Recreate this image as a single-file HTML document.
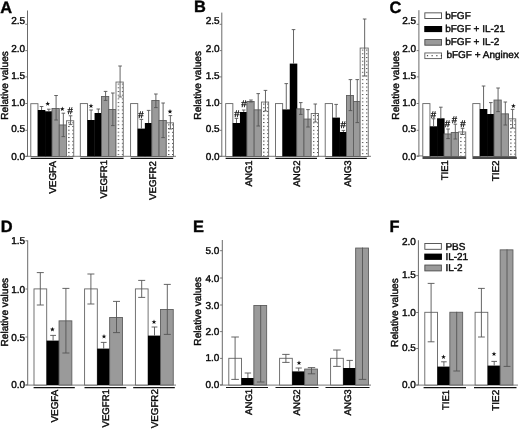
<!DOCTYPE html>
<html><head><meta charset="utf-8"><title>Figure</title>
<style>
html,body{margin:0;padding:0;background:#fff;}
body{width:520px;height:430px;overflow:hidden;font-family:"Liberation Sans",sans-serif;}
svg{display:block;}
svg text{font-family:"Liberation Sans",sans-serif;stroke:#111;stroke-width:0.42px;text-rendering:geometricPrecision;}
svg{will-change:transform;}
</style></head>
<body>
<svg width="520" height="430" viewBox="0 0 520 430">
<defs>
<g id="tile">
<rect width="4.1" height="3.7" fill="#fff"/>
<rect x="0" y="0" width="1.35" height="1.0" fill="#4a4a4a"/>
</g>
<pattern id="dp1" x="68.20" y="122.30" width="4.1" height="3.7" patternUnits="userSpaceOnUse"><use href="#tile"/></pattern>
<pattern id="dp2" x="117.70" y="83.60" width="4.1" height="3.7" patternUnits="userSpaceOnUse"><use href="#tile"/></pattern>
<pattern id="dp3" x="168.00" y="124.40" width="4.1" height="3.7" patternUnits="userSpaceOnUse"><use href="#tile"/></pattern>
<pattern id="dp4" x="263.10" y="103.60" width="4.1" height="3.7" patternUnits="userSpaceOnUse"><use href="#tile"/></pattern>
<pattern id="dp5" x="312.90" y="115.00" width="4.1" height="3.7" patternUnits="userSpaceOnUse"><use href="#tile"/></pattern>
<pattern id="dp6" x="361.85" y="49.60" width="4.1" height="3.7" patternUnits="userSpaceOnUse"><use href="#tile"/></pattern>
<pattern id="dp7" x="460.20" y="133.50" width="4.1" height="3.7" patternUnits="userSpaceOnUse"><use href="#tile"/></pattern>
<pattern id="dp8" x="510.20" y="120.40" width="4.1" height="3.7" patternUnits="userSpaceOnUse"><use href="#tile"/></pattern>
</defs>
<rect width="520" height="430" fill="#fff"/>
<text x="0.30" y="12.60" font-size="16.4" font-weight="bold" fill="#000">A</text>
<path d="M27.50 10.50V156.50" stroke="#6a6a6a" stroke-width="1" fill="none"/>
<path d="M25.30 24.30H27.50" stroke="#6a6a6a" stroke-width="0.9" fill="none"/>
<path d="M25.30 50.60H27.50" stroke="#6a6a6a" stroke-width="0.9" fill="none"/>
<path d="M25.30 76.90H27.50" stroke="#6a6a6a" stroke-width="0.9" fill="none"/>
<path d="M25.30 103.50H27.50" stroke="#6a6a6a" stroke-width="0.9" fill="none"/>
<path d="M25.30 130.30H27.50" stroke="#6a6a6a" stroke-width="0.9" fill="none"/>
<path d="M25.30 156.40H27.50" stroke="#6a6a6a" stroke-width="0.9" fill="none"/>
<text x="25.20" y="24.40" font-size="10" text-anchor="end" fill="#000">2.5</text>
<text x="25.20" y="51.50" font-size="10" text-anchor="end" fill="#000">2.0</text>
<text x="25.20" y="78.50" font-size="10" text-anchor="end" fill="#000">1.5</text>
<text x="25.20" y="106.00" font-size="10" text-anchor="end" fill="#000">1.0</text>
<text x="25.20" y="131.90" font-size="10" text-anchor="end" fill="#000">0.5</text>
<text x="25.20" y="159.60" font-size="10" text-anchor="end" fill="#000">0.0</text>
<text transform="translate(8.10 85.40) rotate(-90)" font-size="10.15" text-anchor="middle" fill="#000">Relative values</text>
<path d="M25.30 156.30H176.00" stroke="#6a6a6a" stroke-width="0.9" fill="none"/>
<rect x="30.80" y="103.70" width="7.15" height="52.80" fill="#fff" stroke="#646464" stroke-width="0.9"/>
<rect x="37.80" y="110.00" width="7.55" height="46.50" fill="#000"/>
<rect x="45.05" y="111.30" width="7.55" height="45.20" fill="#000"/>
<rect x="52.00" y="108.45" width="7.25" height="48.05" fill="#9a9a9a" stroke="#5e5e5e" stroke-width="0.9"/>
<rect x="59.25" y="124.95" width="7.25" height="31.55" fill="#9a9a9a" stroke="#5e5e5e" stroke-width="0.9"/>
<rect x="66.50" y="120.75" width="7.25" height="35.75" fill="url(#dp1)" stroke="#6a6a6a" stroke-width="0.9"/>
<path d="M41.58 106.50V110.00" stroke="#555" stroke-width="0.9" fill="none"/>
<path d="M39.78 106.50H43.38" stroke="#555" stroke-width="0.9" fill="none"/>
<path d="M48.83 109.20V111.30" stroke="#555" stroke-width="0.9" fill="none"/>
<path d="M47.03 109.20H50.62" stroke="#555" stroke-width="0.9" fill="none"/>
<path d="M56.08 95.50V120.00" stroke="#555" stroke-width="0.9" fill="none"/>
<path d="M54.28 95.50H57.88" stroke="#555" stroke-width="0.9" fill="none"/>
<path d="M54.28 120.00H57.88" stroke="#555" stroke-width="0.9" fill="none"/>
<path d="M63.33 113.20V136.60" stroke="#555" stroke-width="0.9" fill="none"/>
<path d="M61.53 113.20H65.12" stroke="#555" stroke-width="0.9" fill="none"/>
<path d="M61.53 136.60H65.12" stroke="#555" stroke-width="0.9" fill="none"/>
<path d="M70.58 115.80V124.60" stroke="#555" stroke-width="0.9" fill="none"/>
<path d="M68.78 115.80H72.38" stroke="#555" stroke-width="0.9" fill="none"/>
<path d="M68.78 124.60H72.38" stroke="#555" stroke-width="0.9" fill="none"/>
<rect x="80.30" y="103.60" width="7.15" height="52.90" fill="#fff" stroke="#646464" stroke-width="0.9"/>
<rect x="87.30" y="120.00" width="7.55" height="36.50" fill="#000"/>
<rect x="94.55" y="113.00" width="7.55" height="43.50" fill="#000"/>
<rect x="101.50" y="96.45" width="7.25" height="60.05" fill="#9a9a9a" stroke="#5e5e5e" stroke-width="0.9"/>
<rect x="108.75" y="109.45" width="7.25" height="47.05" fill="#9a9a9a" stroke="#5e5e5e" stroke-width="0.9"/>
<rect x="116.00" y="82.05" width="7.25" height="74.45" fill="url(#dp2)" stroke="#6a6a6a" stroke-width="0.9"/>
<path d="M91.08 110.00V120.00" stroke="#555" stroke-width="0.9" fill="none"/>
<path d="M89.28 110.00H92.88" stroke="#555" stroke-width="0.9" fill="none"/>
<path d="M98.33 109.00V113.00" stroke="#555" stroke-width="0.9" fill="none"/>
<path d="M96.53 109.00H100.12" stroke="#555" stroke-width="0.9" fill="none"/>
<path d="M105.58 91.40V100.40" stroke="#555" stroke-width="0.9" fill="none"/>
<path d="M103.78 91.40H107.38" stroke="#555" stroke-width="0.9" fill="none"/>
<path d="M103.78 100.40H107.38" stroke="#555" stroke-width="0.9" fill="none"/>
<path d="M112.83 93.00V125.60" stroke="#555" stroke-width="0.9" fill="none"/>
<path d="M111.03 93.00H114.62" stroke="#555" stroke-width="0.9" fill="none"/>
<path d="M111.03 125.60H114.62" stroke="#555" stroke-width="0.9" fill="none"/>
<path d="M120.08 66.00V97.00" stroke="#555" stroke-width="0.9" fill="none"/>
<path d="M118.28 66.00H121.88" stroke="#555" stroke-width="0.9" fill="none"/>
<path d="M118.28 97.00H121.88" stroke="#555" stroke-width="0.9" fill="none"/>
<rect x="130.60" y="103.60" width="7.15" height="52.90" fill="#fff" stroke="#646464" stroke-width="0.9"/>
<rect x="137.60" y="128.60" width="7.55" height="27.90" fill="#000"/>
<rect x="144.85" y="123.00" width="7.55" height="33.50" fill="#000"/>
<rect x="151.80" y="100.45" width="7.25" height="56.05" fill="#9a9a9a" stroke="#5e5e5e" stroke-width="0.9"/>
<rect x="159.05" y="120.45" width="7.25" height="36.05" fill="#9a9a9a" stroke="#5e5e5e" stroke-width="0.9"/>
<rect x="166.30" y="122.85" width="7.25" height="33.65" fill="url(#dp3)" stroke="#6a6a6a" stroke-width="0.9"/>
<path d="M141.38 119.40V128.60" stroke="#555" stroke-width="0.9" fill="none"/>
<path d="M139.57 119.40H143.18" stroke="#555" stroke-width="0.9" fill="none"/>
<path d="M148.62 110.40V123.00" stroke="#555" stroke-width="0.9" fill="none"/>
<path d="M146.82 110.40H150.43" stroke="#555" stroke-width="0.9" fill="none"/>
<path d="M155.88 94.00V107.60" stroke="#555" stroke-width="0.9" fill="none"/>
<path d="M154.07 94.00H157.68" stroke="#555" stroke-width="0.9" fill="none"/>
<path d="M154.07 107.60H157.68" stroke="#555" stroke-width="0.9" fill="none"/>
<path d="M163.12 103.00V137.60" stroke="#555" stroke-width="0.9" fill="none"/>
<path d="M161.32 103.00H164.93" stroke="#555" stroke-width="0.9" fill="none"/>
<path d="M161.32 137.60H164.93" stroke="#555" stroke-width="0.9" fill="none"/>
<path d="M170.38 115.60V129.00" stroke="#555" stroke-width="0.9" fill="none"/>
<path d="M168.57 115.60H172.18" stroke="#555" stroke-width="0.9" fill="none"/>
<path d="M168.57 129.00H172.18" stroke="#555" stroke-width="0.9" fill="none"/>
<polygon points="47.70,101.30 48.32,102.95 50.08,103.03 48.70,104.12 49.17,105.82 47.70,104.85 46.23,105.82 46.70,104.12 45.32,103.03 47.08,102.95" fill="#111"/>
<polygon points="62.30,106.50 62.92,108.15 64.68,108.23 63.30,109.32 63.77,111.02 62.30,110.05 60.83,111.02 61.30,109.32 59.92,108.23 61.68,108.15" fill="#111"/>
<text x="70.20" y="113.50" font-size="9.6" text-anchor="middle" fill="#000" style="stroke-width:0.3px">#</text>
<polygon points="91.00,103.50 91.62,105.15 93.38,105.23 92.00,106.32 92.47,108.02 91.00,107.05 89.53,108.02 90.00,106.32 88.62,105.23 90.38,105.15" fill="#111"/>
<text x="141.00" y="118.00" font-size="9.6" text-anchor="middle" fill="#000" style="stroke-width:0.3px">#</text>
<polygon points="170.00,109.10 170.62,110.75 172.38,110.83 171.00,111.92 171.47,113.62 170.00,112.65 168.53,113.62 169.00,111.92 167.62,110.83 169.38,110.75" fill="#111"/>
<path d="M30.70 158.40H73.20" stroke="#111" stroke-width="1.4" fill="none"/>
<path d="M80.20 158.40H123.60" stroke="#111" stroke-width="1.4" fill="none"/>
<path d="M130.60 158.40H173.20" stroke="#111" stroke-width="1.4" fill="none"/>
<text transform="translate(56.00 160.80) rotate(-90)" font-size="9.9" text-anchor="end" fill="#000">VEGFA</text>
<text transform="translate(107.00 160.00) rotate(-90)" font-size="9.6" text-anchor="end" fill="#000">VEGFR1</text>
<text transform="translate(155.80 161.20) rotate(-90)" font-size="9.7" text-anchor="end" fill="#000">VEGFR2</text>
<text x="194.00" y="12.20" font-size="16.4" font-weight="bold" fill="#000">B</text>
<path d="M221.80 12.60V156.50" stroke="#6a6a6a" stroke-width="1" fill="none"/>
<path d="M219.60 24.30H221.80" stroke="#6a6a6a" stroke-width="0.9" fill="none"/>
<path d="M219.60 50.60H221.80" stroke="#6a6a6a" stroke-width="0.9" fill="none"/>
<path d="M219.60 76.90H221.80" stroke="#6a6a6a" stroke-width="0.9" fill="none"/>
<path d="M219.60 103.50H221.80" stroke="#6a6a6a" stroke-width="0.9" fill="none"/>
<path d="M219.60 130.30H221.80" stroke="#6a6a6a" stroke-width="0.9" fill="none"/>
<path d="M219.60 156.40H221.80" stroke="#6a6a6a" stroke-width="0.9" fill="none"/>
<text x="219.60" y="24.40" font-size="10" text-anchor="end" fill="#000">2.5</text>
<text x="219.60" y="51.50" font-size="10" text-anchor="end" fill="#000">2.0</text>
<text x="219.60" y="78.50" font-size="10" text-anchor="end" fill="#000">1.5</text>
<text x="219.60" y="106.00" font-size="10" text-anchor="end" fill="#000">1.0</text>
<text x="219.60" y="131.90" font-size="10" text-anchor="end" fill="#000">0.5</text>
<text x="219.60" y="159.60" font-size="10" text-anchor="end" fill="#000">0.0</text>
<text transform="translate(200.80 85.30) rotate(-90)" font-size="10.15" text-anchor="middle" fill="#000">Relative values</text>
<path d="M219.80 156.30H371.00" stroke="#6a6a6a" stroke-width="0.9" fill="none"/>
<rect x="225.70" y="103.60" width="7.15" height="52.90" fill="#fff" stroke="#646464" stroke-width="0.9"/>
<rect x="232.70" y="123.00" width="7.55" height="33.50" fill="#000"/>
<rect x="239.95" y="112.00" width="7.55" height="44.50" fill="#000"/>
<rect x="246.90" y="101.45" width="7.25" height="55.05" fill="#9a9a9a" stroke="#5e5e5e" stroke-width="0.9"/>
<rect x="254.15" y="109.85" width="7.25" height="46.65" fill="#9a9a9a" stroke="#5e5e5e" stroke-width="0.9"/>
<rect x="261.40" y="102.05" width="7.25" height="54.45" fill="url(#dp4)" stroke="#6a6a6a" stroke-width="0.9"/>
<path d="M236.47 118.40V123.00" stroke="#555" stroke-width="0.9" fill="none"/>
<path d="M234.67 118.40H238.28" stroke="#555" stroke-width="0.9" fill="none"/>
<path d="M243.72 110.00V112.00" stroke="#555" stroke-width="0.9" fill="none"/>
<path d="M241.92 110.00H245.53" stroke="#555" stroke-width="0.9" fill="none"/>
<path d="M250.97 100.00V102.00" stroke="#555" stroke-width="0.9" fill="none"/>
<path d="M249.17 100.00H252.78" stroke="#555" stroke-width="0.9" fill="none"/>
<path d="M249.17 102.00H252.78" stroke="#555" stroke-width="0.9" fill="none"/>
<path d="M258.23 93.60V126.00" stroke="#555" stroke-width="0.9" fill="none"/>
<path d="M256.43 93.60H260.03" stroke="#555" stroke-width="0.9" fill="none"/>
<path d="M256.43 126.00H260.03" stroke="#555" stroke-width="0.9" fill="none"/>
<path d="M265.48 90.40V111.00" stroke="#555" stroke-width="0.9" fill="none"/>
<path d="M263.68 90.40H267.28" stroke="#555" stroke-width="0.9" fill="none"/>
<path d="M263.68 111.00H267.28" stroke="#555" stroke-width="0.9" fill="none"/>
<rect x="275.50" y="103.60" width="7.15" height="52.90" fill="#fff" stroke="#646464" stroke-width="0.9"/>
<rect x="282.50" y="109.40" width="7.55" height="47.10" fill="#000"/>
<rect x="289.75" y="63.60" width="7.55" height="92.90" fill="#000"/>
<rect x="296.70" y="108.85" width="7.25" height="47.65" fill="#9a9a9a" stroke="#5e5e5e" stroke-width="0.9"/>
<rect x="303.95" y="119.05" width="7.25" height="37.45" fill="#9a9a9a" stroke="#5e5e5e" stroke-width="0.9"/>
<rect x="311.20" y="113.45" width="7.25" height="43.05" fill="url(#dp5)" stroke="#6a6a6a" stroke-width="0.9"/>
<path d="M286.27 83.60V109.40" stroke="#555" stroke-width="0.9" fill="none"/>
<path d="M284.47 83.60H288.07" stroke="#555" stroke-width="0.9" fill="none"/>
<path d="M293.52 29.60V63.60" stroke="#555" stroke-width="0.9" fill="none"/>
<path d="M291.72 29.60H295.32" stroke="#555" stroke-width="0.9" fill="none"/>
<path d="M300.77 102.60V114.40" stroke="#555" stroke-width="0.9" fill="none"/>
<path d="M298.97 102.60H302.57" stroke="#555" stroke-width="0.9" fill="none"/>
<path d="M298.97 114.40H302.57" stroke="#555" stroke-width="0.9" fill="none"/>
<path d="M308.02 109.60V127.00" stroke="#555" stroke-width="0.9" fill="none"/>
<path d="M306.22 109.60H309.82" stroke="#555" stroke-width="0.9" fill="none"/>
<path d="M306.22 127.00H309.82" stroke="#555" stroke-width="0.9" fill="none"/>
<path d="M315.27 104.00V122.00" stroke="#555" stroke-width="0.9" fill="none"/>
<path d="M313.47 104.00H317.07" stroke="#555" stroke-width="0.9" fill="none"/>
<path d="M313.47 122.00H317.07" stroke="#555" stroke-width="0.9" fill="none"/>
<rect x="325.20" y="103.60" width="7.30" height="52.90" fill="#fff" stroke="#646464" stroke-width="0.9"/>
<rect x="332.35" y="117.60" width="7.60" height="38.90" fill="#000"/>
<rect x="339.65" y="132.00" width="7.50" height="24.50" fill="#000"/>
<rect x="346.55" y="95.45" width="6.90" height="61.05" fill="#9a9a9a" stroke="#5e5e5e" stroke-width="0.9"/>
<rect x="353.45" y="101.45" width="6.70" height="55.05" fill="#9a9a9a" stroke="#5e5e5e" stroke-width="0.9"/>
<rect x="360.15" y="48.05" width="8.10" height="108.45" fill="url(#dp6)" stroke="#6a6a6a" stroke-width="0.9"/>
<path d="M336.15 104.40V117.60" stroke="#555" stroke-width="0.9" fill="none"/>
<path d="M334.35 104.40H337.95" stroke="#555" stroke-width="0.9" fill="none"/>
<path d="M343.40 130.40V132.00" stroke="#555" stroke-width="0.9" fill="none"/>
<path d="M341.60 130.40H345.20" stroke="#555" stroke-width="0.9" fill="none"/>
<path d="M350.45 79.60V110.60" stroke="#555" stroke-width="0.9" fill="none"/>
<path d="M348.65 79.60H352.25" stroke="#555" stroke-width="0.9" fill="none"/>
<path d="M348.65 110.60H352.25" stroke="#555" stroke-width="0.9" fill="none"/>
<path d="M357.25 79.60V122.60" stroke="#555" stroke-width="0.9" fill="none"/>
<path d="M355.45 79.60H359.05" stroke="#555" stroke-width="0.9" fill="none"/>
<path d="M355.45 122.60H359.05" stroke="#555" stroke-width="0.9" fill="none"/>
<path d="M364.65 19.00V76.00" stroke="#555" stroke-width="0.9" fill="none"/>
<path d="M362.85 19.00H366.45" stroke="#555" stroke-width="0.9" fill="none"/>
<path d="M362.85 76.00H366.45" stroke="#555" stroke-width="0.9" fill="none"/>
<text x="236.80" y="116.60" font-size="9.6" text-anchor="middle" fill="#000" style="stroke-width:0.3px">#</text>
<text x="244.00" y="107.00" font-size="9.6" text-anchor="middle" fill="#000" style="stroke-width:0.3px">#</text>
<text x="343.20" y="127.60" font-size="9.6" text-anchor="middle" fill="#000" style="stroke-width:0.3px">#</text>
<path d="M225.60 158.40H269.00" stroke="#111" stroke-width="1.4" fill="none"/>
<path d="M275.40 158.40H317.00" stroke="#111" stroke-width="1.4" fill="none"/>
<path d="M325.20 158.40H366.80" stroke="#111" stroke-width="1.4" fill="none"/>
<text transform="translate(252.00 160.30) rotate(-90)" font-size="9.6" text-anchor="end" fill="#000">ANG1</text>
<text transform="translate(300.20 160.50) rotate(-90)" font-size="9.6" text-anchor="end" fill="#000">ANG2</text>
<text transform="translate(351.00 160.50) rotate(-90)" font-size="9.6" text-anchor="end" fill="#000">ANG3</text>
<text x="389.60" y="12.60" font-size="16.4" font-weight="bold" fill="#000">C</text>
<path d="M418.90 10.20V156.50" stroke="#6a6a6a" stroke-width="1" fill="none"/>
<path d="M416.70 24.30H418.90" stroke="#6a6a6a" stroke-width="0.9" fill="none"/>
<path d="M416.70 50.60H418.90" stroke="#6a6a6a" stroke-width="0.9" fill="none"/>
<path d="M416.70 76.90H418.90" stroke="#6a6a6a" stroke-width="0.9" fill="none"/>
<path d="M416.70 103.50H418.90" stroke="#6a6a6a" stroke-width="0.9" fill="none"/>
<path d="M416.70 130.30H418.90" stroke="#6a6a6a" stroke-width="0.9" fill="none"/>
<path d="M416.70 156.40H418.90" stroke="#6a6a6a" stroke-width="0.9" fill="none"/>
<text x="416.20" y="24.40" font-size="10" text-anchor="end" fill="#000">2.5</text>
<text x="416.20" y="51.50" font-size="10" text-anchor="end" fill="#000">2.0</text>
<text x="416.20" y="78.50" font-size="10" text-anchor="end" fill="#000">1.5</text>
<text x="416.20" y="106.00" font-size="10" text-anchor="end" fill="#000">1.0</text>
<text x="416.20" y="131.90" font-size="10" text-anchor="end" fill="#000">0.5</text>
<text x="416.20" y="159.60" font-size="10" text-anchor="end" fill="#000">0.0</text>
<text transform="translate(398.80 85.30) rotate(-90)" font-size="10.15" text-anchor="middle" fill="#000">Relative values</text>
<path d="M416.70 155.90H423.00" stroke="#6a6a6a" stroke-width="0.9" fill="none"/>
<rect x="422.80" y="103.60" width="7.15" height="52.90" fill="#fff" stroke="#646464" stroke-width="0.9"/>
<rect x="429.80" y="126.30" width="7.55" height="30.20" fill="#000"/>
<rect x="437.05" y="118.30" width="7.55" height="38.20" fill="#000"/>
<rect x="444.00" y="133.95" width="7.25" height="22.55" fill="#9a9a9a" stroke="#5e5e5e" stroke-width="0.9"/>
<rect x="451.25" y="132.45" width="7.25" height="24.05" fill="#9a9a9a" stroke="#5e5e5e" stroke-width="0.9"/>
<rect x="458.50" y="131.95" width="7.25" height="24.55" fill="url(#dp7)" stroke="#6a6a6a" stroke-width="0.9"/>
<path d="M433.57 118.80V126.30" stroke="#555" stroke-width="0.9" fill="none"/>
<path d="M431.77 118.80H435.38" stroke="#555" stroke-width="0.9" fill="none"/>
<path d="M440.82 107.20V118.30" stroke="#555" stroke-width="0.9" fill="none"/>
<path d="M439.02 107.20H442.62" stroke="#555" stroke-width="0.9" fill="none"/>
<path d="M448.07 129.00V138.60" stroke="#555" stroke-width="0.9" fill="none"/>
<path d="M446.27 129.00H449.88" stroke="#555" stroke-width="0.9" fill="none"/>
<path d="M446.27 138.60H449.88" stroke="#555" stroke-width="0.9" fill="none"/>
<path d="M455.32 124.20V139.00" stroke="#555" stroke-width="0.9" fill="none"/>
<path d="M453.52 124.20H457.12" stroke="#555" stroke-width="0.9" fill="none"/>
<path d="M453.52 139.00H457.12" stroke="#555" stroke-width="0.9" fill="none"/>
<path d="M462.57 128.30V134.50" stroke="#555" stroke-width="0.9" fill="none"/>
<path d="M460.77 128.30H464.38" stroke="#555" stroke-width="0.9" fill="none"/>
<path d="M460.77 134.50H464.38" stroke="#555" stroke-width="0.9" fill="none"/>
<rect x="472.80" y="103.60" width="7.15" height="52.90" fill="#fff" stroke="#646464" stroke-width="0.9"/>
<rect x="479.80" y="109.00" width="7.55" height="47.50" fill="#000"/>
<rect x="487.05" y="114.00" width="7.55" height="42.50" fill="#000"/>
<rect x="494.00" y="100.05" width="7.25" height="56.45" fill="#9a9a9a" stroke="#5e5e5e" stroke-width="0.9"/>
<rect x="501.25" y="113.85" width="7.25" height="42.65" fill="#9a9a9a" stroke="#5e5e5e" stroke-width="0.9"/>
<rect x="508.50" y="118.85" width="7.25" height="37.65" fill="url(#dp8)" stroke="#6a6a6a" stroke-width="0.9"/>
<path d="M483.57 86.00V109.00" stroke="#555" stroke-width="0.9" fill="none"/>
<path d="M481.77 86.00H485.38" stroke="#555" stroke-width="0.9" fill="none"/>
<path d="M490.82 102.60V114.00" stroke="#555" stroke-width="0.9" fill="none"/>
<path d="M489.02 102.60H492.62" stroke="#555" stroke-width="0.9" fill="none"/>
<path d="M498.07 88.00V111.60" stroke="#555" stroke-width="0.9" fill="none"/>
<path d="M496.27 88.00H499.88" stroke="#555" stroke-width="0.9" fill="none"/>
<path d="M496.27 111.60H499.88" stroke="#555" stroke-width="0.9" fill="none"/>
<path d="M505.32 102.00V125.00" stroke="#555" stroke-width="0.9" fill="none"/>
<path d="M503.52 102.00H507.12" stroke="#555" stroke-width="0.9" fill="none"/>
<path d="M503.52 125.00H507.12" stroke="#555" stroke-width="0.9" fill="none"/>
<path d="M512.58 109.40V128.00" stroke="#555" stroke-width="0.9" fill="none"/>
<path d="M510.78 109.40H514.38" stroke="#555" stroke-width="0.9" fill="none"/>
<path d="M510.78 128.00H514.38" stroke="#555" stroke-width="0.9" fill="none"/>
<text x="433.50" y="117.50" font-size="9.6" text-anchor="middle" fill="#000" style="stroke-width:0.3px">#</text>
<text x="447.30" y="127.20" font-size="9.6" text-anchor="middle" fill="#000" style="stroke-width:0.3px">#</text>
<text x="454.50" y="123.00" font-size="9.6" text-anchor="middle" fill="#000" style="stroke-width:0.3px">#</text>
<text x="462.80" y="127.00" font-size="9.6" text-anchor="middle" fill="#000" style="stroke-width:0.3px">#</text>
<polygon points="513.40,103.50 514.02,105.15 515.78,105.23 514.40,106.32 514.87,108.02 513.40,107.05 511.93,108.02 512.40,106.32 511.02,105.23 512.78,105.15" fill="#111"/>
<path d="M422.50 157.80H466.20" stroke="#4a4a4a" stroke-width="2.3" fill="none"/>
<path d="M472.50 157.80H516.80" stroke="#4a4a4a" stroke-width="2.3" fill="none"/>
<text transform="translate(447.80 160.10) rotate(-90)" font-size="9.6" text-anchor="end" fill="#000">TIE1</text>
<text transform="translate(498.60 160.40) rotate(-90)" font-size="9.9" text-anchor="end" fill="#000">TIE2</text>
<rect x="424.85" y="12.85" width="16.70" height="5.65" fill="#fff" stroke="#4a4a4a" stroke-width="0.9"/>
<text x="445.20" y="18.60" font-size="10" fill="#000">bFGF</text>
<rect x="424.25" y="26.00" width="17.90" height="6.10" fill="#000"/>
<text x="445.20" y="32.00" font-size="10" fill="#000">bFGF + IL-21</text>
<rect x="424.85" y="39.55" width="16.70" height="5.65" fill="#9a9a9a" stroke="#4a4a4a" stroke-width="0.9"/>
<text x="445.20" y="45.40" font-size="10" fill="#000">bFGF + IL-2</text>
<rect x="424.85" y="52.95" width="16.70" height="5.65" fill="#fff" stroke="#5a5a5a" stroke-width="0.9"/>
<rect x="426.90" y="55.15" width="1.2" height="1.1" fill="#333"/>
<rect x="431.55" y="55.15" width="1.2" height="1.1" fill="#333"/>
<rect x="436.25" y="55.15" width="1.2" height="1.1" fill="#333"/>
<rect x="440.80" y="55.15" width="1.2" height="1.1" fill="#333"/>
<text x="446.40" y="58.20" font-size="10" fill="#000">bFGF + Anginex</text>
<text x="0.80" y="232.00" font-size="16.4" font-weight="bold" fill="#000">D</text>
<path d="M27.70 240.40V385.00" stroke="#6a6a6a" stroke-width="1" fill="none"/>
<path d="M25.50 240.80H27.70" stroke="#6a6a6a" stroke-width="0.9" fill="none"/>
<path d="M25.50 289.00H27.70" stroke="#6a6a6a" stroke-width="0.9" fill="none"/>
<path d="M25.50 337.00H27.70" stroke="#6a6a6a" stroke-width="0.9" fill="none"/>
<path d="M25.50 384.90H27.70" stroke="#6a6a6a" stroke-width="0.9" fill="none"/>
<text x="25.20" y="244.40" font-size="10" text-anchor="end" fill="#000">1.5</text>
<text x="25.20" y="293.00" font-size="10" text-anchor="end" fill="#000">1.0</text>
<text x="25.20" y="340.80" font-size="10" text-anchor="end" fill="#000">0.5</text>
<text x="25.20" y="388.30" font-size="10" text-anchor="end" fill="#000">0.0</text>
<text transform="translate(8.20 312.20) rotate(-90)" font-size="10.15" text-anchor="middle" fill="#000">Relative values</text>
<path d="M25.30 385.10H176.00" stroke="#6a6a6a" stroke-width="0.9" fill="none"/>
<rect x="34.00" y="288.90" width="12.70" height="96.10" fill="#fff" stroke="#646464" stroke-width="0.9"/>
<rect x="46.55" y="340.60" width="13.10" height="44.40" fill="#000"/>
<rect x="59.05" y="320.85" width="12.80" height="64.15" fill="#9a9a9a" stroke="#5e5e5e" stroke-width="0.9"/>
<path d="M40.30 272.60V305.00" stroke="#555" stroke-width="0.9" fill="none"/>
<path d="M36.80 272.60H43.80" stroke="#555" stroke-width="0.9" fill="none"/>
<path d="M36.80 305.00H43.80" stroke="#555" stroke-width="0.9" fill="none"/>
<path d="M53.10 335.40V340.60" stroke="#555" stroke-width="0.9" fill="none"/>
<path d="M50.20 335.40H56.00" stroke="#555" stroke-width="0.9" fill="none"/>
<path d="M65.90 288.40V353.00" stroke="#555" stroke-width="0.9" fill="none"/>
<path d="M62.40 288.40H69.40" stroke="#555" stroke-width="0.9" fill="none"/>
<path d="M62.40 353.00H69.40" stroke="#555" stroke-width="0.9" fill="none"/>
<rect x="84.60" y="288.90" width="12.70" height="96.10" fill="#fff" stroke="#646464" stroke-width="0.9"/>
<rect x="97.15" y="348.60" width="13.10" height="36.40" fill="#000"/>
<rect x="109.65" y="317.45" width="12.80" height="67.55" fill="#9a9a9a" stroke="#5e5e5e" stroke-width="0.9"/>
<path d="M90.90 274.00V304.00" stroke="#555" stroke-width="0.9" fill="none"/>
<path d="M87.40 274.00H94.40" stroke="#555" stroke-width="0.9" fill="none"/>
<path d="M87.40 304.00H94.40" stroke="#555" stroke-width="0.9" fill="none"/>
<path d="M103.70 342.40V348.60" stroke="#555" stroke-width="0.9" fill="none"/>
<path d="M100.80 342.40H106.60" stroke="#555" stroke-width="0.9" fill="none"/>
<path d="M116.50 301.40V332.60" stroke="#555" stroke-width="0.9" fill="none"/>
<path d="M113.00 301.40H120.00" stroke="#555" stroke-width="0.9" fill="none"/>
<path d="M113.00 332.60H120.00" stroke="#555" stroke-width="0.9" fill="none"/>
<rect x="135.40" y="288.90" width="12.70" height="96.10" fill="#fff" stroke="#646464" stroke-width="0.9"/>
<rect x="147.95" y="335.60" width="13.10" height="49.40" fill="#000"/>
<rect x="160.45" y="309.45" width="12.80" height="75.55" fill="#9a9a9a" stroke="#5e5e5e" stroke-width="0.9"/>
<path d="M141.70 280.40V297.40" stroke="#555" stroke-width="0.9" fill="none"/>
<path d="M138.20 280.40H145.20" stroke="#555" stroke-width="0.9" fill="none"/>
<path d="M138.20 297.40H145.20" stroke="#555" stroke-width="0.9" fill="none"/>
<path d="M154.50 327.00V335.60" stroke="#555" stroke-width="0.9" fill="none"/>
<path d="M151.60 327.00H157.40" stroke="#555" stroke-width="0.9" fill="none"/>
<path d="M167.30 284.40V334.40" stroke="#555" stroke-width="0.9" fill="none"/>
<path d="M163.80 284.40H170.80" stroke="#555" stroke-width="0.9" fill="none"/>
<path d="M163.80 334.40H170.80" stroke="#555" stroke-width="0.9" fill="none"/>
<polygon points="52.40,326.90 53.02,328.55 54.78,328.63 53.40,329.72 53.87,331.42 52.40,330.45 50.93,331.42 51.40,329.72 50.02,328.63 51.78,328.55" fill="#111"/>
<polygon points="104.00,334.00 104.62,335.65 106.38,335.73 105.00,336.82 105.47,338.52 104.00,337.55 102.53,338.52 103.00,336.82 101.62,335.73 103.38,335.65" fill="#111"/>
<polygon points="154.00,319.50 154.62,321.15 156.38,321.23 155.00,322.32 155.47,324.02 154.00,323.05 152.53,324.02 153.00,322.32 151.62,321.23 153.38,321.15" fill="#111"/>
<path d="M33.60 387.60H74.80" stroke="#111" stroke-width="1.2" fill="none"/>
<path d="M84.50 387.60H126.20" stroke="#111" stroke-width="1.2" fill="none"/>
<path d="M133.20 387.60H174.80" stroke="#111" stroke-width="1.2" fill="none"/>
<text transform="translate(58.30 389.60) rotate(-90)" font-size="9.9" text-anchor="end" fill="#000">VEGFA</text>
<text transform="translate(109.00 389.10) rotate(-90)" font-size="9.6" text-anchor="end" fill="#000">VEGFR1</text>
<text transform="translate(158.40 389.10) rotate(-90)" font-size="9.8" text-anchor="end" fill="#000">VEGFR2</text>
<text x="193.00" y="232.00" font-size="16.4" font-weight="bold" fill="#000">E</text>
<path d="M222.30 240.00V385.00" stroke="#6a6a6a" stroke-width="1" fill="none"/>
<path d="M220.10 250.70H222.30" stroke="#6a6a6a" stroke-width="0.9" fill="none"/>
<path d="M220.10 278.00H222.30" stroke="#6a6a6a" stroke-width="0.9" fill="none"/>
<path d="M220.10 305.00H222.30" stroke="#6a6a6a" stroke-width="0.9" fill="none"/>
<path d="M220.10 331.60H222.30" stroke="#6a6a6a" stroke-width="0.9" fill="none"/>
<path d="M220.10 358.40H222.30" stroke="#6a6a6a" stroke-width="0.9" fill="none"/>
<path d="M220.10 384.90H222.30" stroke="#6a6a6a" stroke-width="0.9" fill="none"/>
<text x="219.40" y="254.00" font-size="10" text-anchor="end" fill="#000">5.0</text>
<text x="219.40" y="282.00" font-size="10" text-anchor="end" fill="#000">4.0</text>
<text x="219.40" y="309.20" font-size="10" text-anchor="end" fill="#000">3.0</text>
<text x="219.40" y="335.40" font-size="10" text-anchor="end" fill="#000">2.0</text>
<text x="219.40" y="361.10" font-size="10" text-anchor="end" fill="#000">1.0</text>
<text x="219.40" y="388.10" font-size="10" text-anchor="end" fill="#000">0.0</text>
<text transform="translate(200.80 311.30) rotate(-90)" font-size="10.15" text-anchor="middle" fill="#000">Relative values</text>
<path d="M220.00 385.10H371.00" stroke="#6a6a6a" stroke-width="0.9" fill="none"/>
<rect x="228.80" y="358.30" width="12.70" height="26.70" fill="#fff" stroke="#646464" stroke-width="0.9"/>
<rect x="241.35" y="378.00" width="13.10" height="7.00" fill="#000"/>
<rect x="253.85" y="305.45" width="12.80" height="79.55" fill="#9a9a9a" stroke="#5e5e5e" stroke-width="0.9"/>
<path d="M235.10 337.00V379.40" stroke="#555" stroke-width="0.9" fill="none"/>
<path d="M231.30 337.00H238.90" stroke="#555" stroke-width="0.9" fill="none"/>
<path d="M231.30 379.40H238.90" stroke="#555" stroke-width="0.9" fill="none"/>
<path d="M247.90 373.00V378.00" stroke="#555" stroke-width="0.9" fill="none"/>
<path d="M244.70 373.00H251.10" stroke="#555" stroke-width="0.9" fill="none"/>
<path d="M260.70 305.00V382.00" stroke="#555" stroke-width="0.9" fill="none"/>
<path d="M256.90 382.00H264.50" stroke="#555" stroke-width="0.9" fill="none"/>
<rect x="279.60" y="358.30" width="12.70" height="26.70" fill="#fff" stroke="#646464" stroke-width="0.9"/>
<rect x="292.15" y="371.40" width="13.10" height="13.60" fill="#000"/>
<rect x="304.65" y="369.05" width="12.80" height="15.95" fill="#9a9a9a" stroke="#5e5e5e" stroke-width="0.9"/>
<path d="M285.90 354.40V362.40" stroke="#555" stroke-width="0.9" fill="none"/>
<path d="M282.20 354.40H289.60" stroke="#555" stroke-width="0.9" fill="none"/>
<path d="M282.20 362.40H289.60" stroke="#555" stroke-width="0.9" fill="none"/>
<path d="M298.70 368.00V371.40" stroke="#555" stroke-width="0.9" fill="none"/>
<path d="M295.60 368.00H301.80" stroke="#555" stroke-width="0.9" fill="none"/>
<path d="M311.50 367.60V373.80" stroke="#555" stroke-width="0.9" fill="none"/>
<path d="M307.80 367.60H315.20" stroke="#555" stroke-width="0.9" fill="none"/>
<path d="M307.80 373.80H315.20" stroke="#555" stroke-width="0.9" fill="none"/>
<rect x="330.60" y="358.30" width="12.70" height="26.70" fill="#fff" stroke="#646464" stroke-width="0.9"/>
<rect x="343.15" y="368.00" width="13.10" height="17.00" fill="#000"/>
<rect x="355.65" y="248.05" width="12.80" height="136.95" fill="#9a9a9a" stroke="#5e5e5e" stroke-width="0.9"/>
<path d="M336.90 350.00V366.40" stroke="#555" stroke-width="0.9" fill="none"/>
<path d="M333.10 350.00H340.70" stroke="#555" stroke-width="0.9" fill="none"/>
<path d="M333.10 366.40H340.70" stroke="#555" stroke-width="0.9" fill="none"/>
<path d="M349.70 360.40V368.00" stroke="#555" stroke-width="0.9" fill="none"/>
<path d="M346.50 360.40H352.90" stroke="#555" stroke-width="0.9" fill="none"/>
<path d="M362.50 247.60V379.40" stroke="#555" stroke-width="0.9" fill="none"/>
<path d="M358.70 379.40H366.30" stroke="#555" stroke-width="0.9" fill="none"/>
<polygon points="299.00,360.50 299.62,362.15 301.38,362.23 300.00,363.32 300.47,365.02 299.00,364.05 297.53,365.02 298.00,363.32 296.62,362.23 298.38,362.15" fill="#111"/>
<path d="M226.00 387.50H268.00" stroke="#111" stroke-width="1.2" fill="none"/>
<path d="M275.50 387.50H318.50" stroke="#111" stroke-width="1.2" fill="none"/>
<path d="M325.50 387.50H369.50" stroke="#111" stroke-width="1.2" fill="none"/>
<text transform="translate(252.00 388.80) rotate(-90)" font-size="9.6" text-anchor="end" fill="#000">ANG1</text>
<text transform="translate(300.40 389.30) rotate(-90)" font-size="9.6" text-anchor="end" fill="#000">ANG2</text>
<text transform="translate(351.20 389.30) rotate(-90)" font-size="9.6" text-anchor="end" fill="#000">ANG3</text>
<text x="389.40" y="232.00" font-size="16.4" font-weight="bold" fill="#000">F</text>
<path d="M418.40 240.20V385.00" stroke="#6a6a6a" stroke-width="1" fill="none"/>
<path d="M416.20 275.60H418.40" stroke="#6a6a6a" stroke-width="0.9" fill="none"/>
<path d="M416.20 312.50H418.40" stroke="#6a6a6a" stroke-width="0.9" fill="none"/>
<path d="M416.20 348.50H418.40" stroke="#6a6a6a" stroke-width="0.9" fill="none"/>
<path d="M416.20 385.00H418.40" stroke="#6a6a6a" stroke-width="0.9" fill="none"/>
<text x="415.90" y="245.00" font-size="10" text-anchor="end" fill="#000">2.0</text>
<text x="415.90" y="278.00" font-size="10" text-anchor="end" fill="#000">1.5</text>
<text x="415.90" y="315.90" font-size="10" text-anchor="end" fill="#000">1.0</text>
<text x="415.90" y="350.70" font-size="10" text-anchor="end" fill="#000">0.5</text>
<text x="415.90" y="388.20" font-size="10" text-anchor="end" fill="#000">0.0</text>
<text transform="translate(397.80 312.60) rotate(-90)" font-size="10.15" text-anchor="middle" fill="#000">Relative values</text>
<path d="M416.20 385.10H518.00" stroke="#6a6a6a" stroke-width="0.9" fill="none"/>
<rect x="424.80" y="312.30" width="12.70" height="72.70" fill="#fff" stroke="#646464" stroke-width="0.9"/>
<rect x="437.35" y="366.60" width="13.10" height="18.40" fill="#000"/>
<rect x="449.85" y="312.25" width="12.80" height="72.75" fill="#9a9a9a" stroke="#5e5e5e" stroke-width="0.9"/>
<path d="M431.10 283.40V341.80" stroke="#555" stroke-width="0.9" fill="none"/>
<path d="M427.70 283.40H434.50" stroke="#555" stroke-width="0.9" fill="none"/>
<path d="M427.70 341.80H434.50" stroke="#555" stroke-width="0.9" fill="none"/>
<path d="M443.90 361.80V366.60" stroke="#555" stroke-width="0.9" fill="none"/>
<path d="M441.10 361.80H446.70" stroke="#555" stroke-width="0.9" fill="none"/>
<path d="M456.70 311.80V371.00" stroke="#555" stroke-width="0.9" fill="none"/>
<path d="M453.30 371.00H460.10" stroke="#555" stroke-width="0.9" fill="none"/>
<rect x="475.10" y="312.30" width="12.70" height="72.70" fill="#fff" stroke="#646464" stroke-width="0.9"/>
<rect x="487.65" y="365.60" width="13.10" height="19.40" fill="#000"/>
<rect x="500.15" y="249.85" width="12.80" height="135.15" fill="#9a9a9a" stroke="#5e5e5e" stroke-width="0.9"/>
<path d="M481.40 288.40V337.00" stroke="#555" stroke-width="0.9" fill="none"/>
<path d="M478.00 288.40H484.80" stroke="#555" stroke-width="0.9" fill="none"/>
<path d="M478.00 337.00H484.80" stroke="#555" stroke-width="0.9" fill="none"/>
<path d="M494.20 361.40V365.60" stroke="#555" stroke-width="0.9" fill="none"/>
<path d="M491.40 361.40H497.00" stroke="#555" stroke-width="0.9" fill="none"/>
<path d="M507.00 249.40V366.40" stroke="#555" stroke-width="0.9" fill="none"/>
<path d="M503.60 366.40H510.40" stroke="#555" stroke-width="0.9" fill="none"/>
<polygon points="443.50,354.50 444.12,356.15 445.88,356.23 444.50,357.32 444.97,359.02 443.50,358.05 442.03,359.02 442.50,357.32 441.12,356.23 442.88,356.15" fill="#111"/>
<polygon points="494.00,351.50 494.62,353.15 496.38,353.23 495.00,354.32 495.47,356.02 494.00,355.05 492.53,356.02 493.00,354.32 491.62,353.23 493.38,353.15" fill="#111"/>
<path d="M423.60 387.70H466.00" stroke="#111" stroke-width="1.2" fill="none"/>
<path d="M474.00 387.70H516.50" stroke="#111" stroke-width="1.2" fill="none"/>
<text transform="translate(449.00 389.80) rotate(-90)" font-size="9.6" text-anchor="end" fill="#000">TIE1</text>
<text transform="translate(499.20 389.80) rotate(-90)" font-size="9.9" text-anchor="end" fill="#000">TIE2</text>
<rect x="424.85" y="243.45" width="16.50" height="5.85" fill="#fff" stroke="#4a4a4a" stroke-width="0.9"/>
<text x="445.4" y="249.60" font-size="10" fill="#000">PBS</text>
<rect x="424.25" y="253.60" width="17.70" height="6.30" fill="#000"/>
<text x="445.4" y="260.20" font-size="10" fill="#000">IL-21</text>
<rect x="424.85" y="265.05" width="16.50" height="5.85" fill="#9a9a9a" stroke="#4a4a4a" stroke-width="0.9"/>
<text x="445.4" y="271.00" font-size="10" fill="#000">IL-2</text>
</svg>
</body></html>
